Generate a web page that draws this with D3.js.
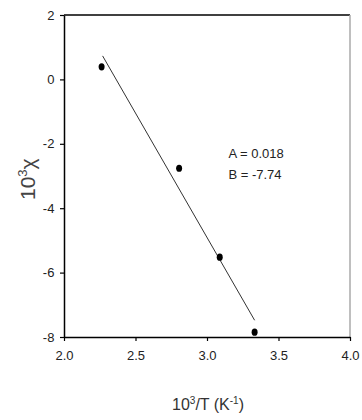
<!DOCTYPE html>
<html>
<head>
<meta charset="utf-8">
<script src="https://cdn.jsdelivr.net/npm/d3@7"></script>
<style>
  body { margin: 0; background: #fff; }
  text { font-family: "Liberation Sans", Arial, sans-serif; }
</style>
</head>
<body>
<div id="chart"></div>
<script>
const pointsX = [2.263, 2.805, 3.089, 3.333];
const pointsY = [0.39, -2.76, -5.52, -7.85];
const fitX = [2.27, 3.333];
const fitY = [0.73, -7.48];
const xTicks = [2.0, 2.5, 3.0, 3.5, 4.0];
const yTicks = [2, 0, -2, -4, -6, -8];
const fitLabels = ["A = 0.018", "B = -7.74"];

const margin = {top: 15, right: 12, bottom: 83, left: 64};
const width = 362, height = 420;
const w = width - margin.left - margin.right;
const h = height - margin.top - margin.bottom;

const svg = d3.select("#chart").append("svg")
  .attr("width", width).attr("height", height);
const g = svg.append("g").attr("transform", `translate(${margin.left}, ${margin.top})`);

const x = d3.scaleLinear().domain([2, 4]).range([0, w]);
const y = d3.scaleLinear().domain([-8, 2]).range([h, 0]);

// frame: top black, right gray
g.append("line").attr("x1", 0).attr("x2", w).attr("y1", 0).attr("y2", 0)
  .attr("stroke", "#000").attr("stroke-width", 1.5);
g.append("line").attr("x1", w).attr("x2", w).attr("y1", 0).attr("y2", h)
  .attr("stroke", "#aaa").attr("stroke-width", 1.5);

const xAxis = g.append("g").attr("transform", `translate(0, ${h})`)
  .call(d3.axisBottom(x).tickValues(xTicks).tickFormat(d3.format(".1f")).tickSize(4).tickSizeOuter(0));
const yAxis = g.append("g")
  .call(d3.axisLeft(y).tickValues(yTicks).tickFormat(d => d).tickSize(4).tickSizeOuter(0));

[xAxis, yAxis].forEach(ax => {
  ax.select(".domain").attr("stroke", "#000").attr("stroke-width", 1.5);
  ax.selectAll(".tick line").attr("stroke", "#000").attr("stroke-width", 1.2);
  ax.selectAll(".tick text").attr("fill", "#222").attr("font-size", "13px");
});
xAxis.selectAll(".tick text").attr("dy", "1.2em");
yAxis.selectAll(".tick text").attr("dx", "-0.2em");

// fit line
const line = d3.line().x(d => x(d[0])).y(d => y(d[1]));
g.append("path")
  .datum(d3.zip(fitX, fitY))
  .attr("d", line)
  .attr("fill", "none")
  .attr("stroke", "#333")
  .attr("stroke-width", 1);

// points
g.selectAll("ellipse.pt")
  .data(d3.zip(pointsX, pointsY))
  .join("ellipse")
  .attr("class", "pt")
  .attr("cx", d => x(d[0]))
  .attr("cy", d => y(d[1]))
  .attr("rx", 3).attr("ry", 3.6)
  .attr("fill", "#000");

// fit parameters
g.selectAll("text.fit")
  .data(fitLabels)
  .join("text")
  .attr("class", "fit")
  .attr("x", x(3.15))
  .attr("y", (d, i) => y(-2.44) + i * 21)
  .attr("font-size", "13px")
  .attr("fill", "#222")
  .text(d => d);

// axis titles
const xt = svg.append("text")
  .attr("x", margin.left + w / 2 + 1)
  .attr("y", 410)
  .attr("text-anchor", "middle")
  .attr("font-size", "16px")
  .attr("fill", "#333");
xt.append("tspan").text("10");
xt.append("tspan").attr("dy", -6).attr("font-size", "10px").text("3");
xt.append("tspan").attr("dy", 6).text("/T (K");
xt.append("tspan").attr("dy", -6).attr("font-size", "10px").text("-1");
xt.append("tspan").attr("dy", 6).text(")");

const yt = svg.append("text")
  .attr("transform", `translate(35, ${margin.top + y(-3.1)}) rotate(-90)`)
  .attr("text-anchor", "middle")
  .attr("font-size", "21px")
  .attr("fill", "#444");
yt.append("tspan").text("10");
yt.append("tspan").attr("dy", -8).attr("font-size", "13px").text("3");
yt.append("tspan").attr("dy", 8).text("χ");
</script>
</body>
</html>
